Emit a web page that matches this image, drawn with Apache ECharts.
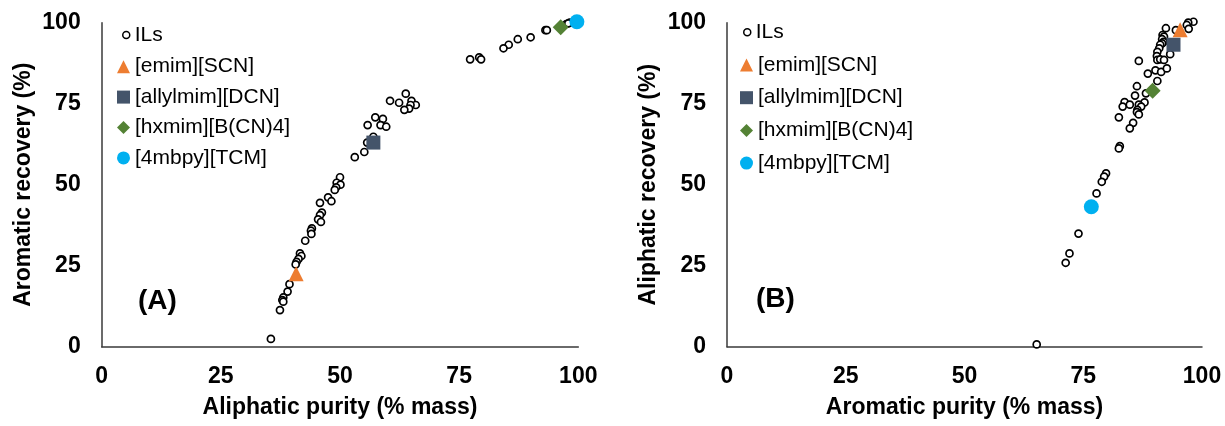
<!DOCTYPE html>
<html>
<head>
<meta charset="utf-8">
<script src="https://cdn.jsdelivr.net/npm/echarts@6/dist/echarts.min.js"></script>
<style>
  html, body { margin: 0; padding: 0; background: #fff; }
  #chart { width: 1225px; height: 426px; }
</style>
</head>
<body>
<div id="chart"></div>
<script>
// ---------- Data ----------
const axisTicks = [0, 25, 50, 75, 100];
const seriesNames = ['ILs', '[emim][SCN]', '[allylmim][DCN]', '[hxmim][B(CN)4]', '[4mbpy][TCM]'];

// Panel A: x = Aliphatic purity (% mass), y = Aromatic recovery (%)
const ilsA = [
  [97.5, 99.6], [98.2, 100.0], [97.9, 99.8], [93.1, 97.7], [93.4, 97.7], [90.0, 95.5], [87.3, 94.9],
  [85.4, 93.2], [84.3, 92.1], [79.2, 89.3], [79.6, 88.7], [77.3, 88.7],
  [63.8, 78.1], [60.5, 75.9], [62.4, 75.3], [65.0, 75.9], [65.9, 74.6], [64.8, 74.6],
  [64.5, 73.5], [63.5, 73.1], [57.4, 70.8], [59.0, 70.3], [55.8, 68.4], [58.5, 68.4],
  [59.7, 67.9], [57.0, 64.8], [55.7, 63.0], [55.1, 60.1], [53.1, 58.5],
  [50.0, 52.3], [49.3, 50.6], [50.1, 50.0], [49.2, 49.2], [48.9, 48.4], [47.5, 46.1],
  [48.2, 44.9], [45.8, 44.4], [46.2, 41.4], [45.8, 40.6], [45.4, 39.3], [46.0, 38.5],
  [44.1, 36.5], [43.9, 35.8], [44.0, 34.8], [42.7, 32.7], [41.6, 28.8], [41.9, 28.0],
  [41.3, 27.1], [40.9, 26.2], [40.7, 25.4], [39.4, 19.3], [39.0, 17.0], [38.1, 15.2],
  [37.9, 14.4], [38.1, 13.9], [37.4, 11.3], [35.5, 2.4]
];
const emimA = [[40.8, 22.5]];
const allylA = [[57.0, 63.0]];
const hxmimA = [[96.3, 98.6]];
const mbpyA = [[99.7, 100.3]];

// Panel B: x = Aromatic purity (% mass), y = Aliphatic recovery (%)
const ilsB = [
  [98.2, 100.3], [97.1, 100.0], [96.8, 99.3], [97.2, 98.1], [92.4, 98.3], [94.5, 97.7],
  [91.7, 96.2], [92.0, 95.7], [91.6, 94.9], [91.9, 94.1], [91.6, 93.6], [91.2, 93.2],
  [91.0, 92.1], [90.6, 91.0], [90.5, 89.7], [90.6, 88.5], [91.2, 88.7], [92.0, 88.5],
  [93.3, 90.3], [86.7, 88.2], [88.6, 84.3], [90.2, 85.3], [91.4, 84.8], [92.6, 85.9],
  [90.6, 82.0], [86.3, 80.4], [85.9, 77.5], [88.2, 78.2], [87.9, 75.4], [83.7, 75.5],
  [83.3, 74.1], [84.8, 74.7], [86.7, 74.7], [87.2, 74.1], [86.4, 73.1], [86.3, 72.4],
  [86.7, 71.7], [82.5, 70.8], [85.5, 69.1], [84.8, 67.4], [82.7, 61.9], [82.5, 61.2],
  [79.8, 53.5], [79.4, 52.5], [78.9, 50.9], [77.8, 47.3], [74.0, 34.9], [72.1, 28.8],
  [71.3, 25.9], [65.2, 0.7]
];
const emimB = [[95.4, 97.8]];
const allylB = [[94.0, 93.2]];
const hxmimB = [[89.6, 79.0]];
const mbpyB = [[76.7, 43.2]];

// ---------- Styles ----------
const FONT = "'Liberation Sans', Arial, sans-serif";
const axisLineColor = '#3a3a3a';
const colors = { emim: '#ED7D31', allyl: '#44546A', hxmim: '#548235', mbpy: '#00B0F0' };

function makeXAxis(gridIndex, name) {
  return {
    gridIndex, type: 'value', min: 0, max: 100, interval: 25,
    name, nameLocation: 'middle', nameGap: 49,
    nameTextStyle: { fontFamily: FONT, fontSize: 23, fontWeight: 'bold', color: '#000' },
    axisLine: { show: true, onZero: false, lineStyle: { color: axisLineColor, width: 1.5 } },
    axisTick: { show: false },
    splitLine: { show: false },
    axisLabel: { margin: 18, fontFamily: FONT, fontSize: 23, fontWeight: 'bold', color: '#000',
      formatter: v => axisTicks.includes(v) ? String(v) : '' }
  };
}
function makeYAxis(gridIndex, name) {
  return {
    gridIndex, type: 'value', min: 0, max: 100, interval: 25,
    name, nameLocation: 'middle', nameGap: 67,
    nameTextStyle: { fontFamily: FONT, fontSize: 23, fontWeight: 'bold', color: '#000' },
    axisLine: { show: true, onZero: false, lineStyle: { color: axisLineColor, width: 1.5 } },
    axisTick: { show: false },
    splitLine: { show: false },
    axisLabel: { margin: 21, fontFamily: FONT, fontSize: 23, fontWeight: 'bold', color: '#000',
      formatter: v => axisTicks.includes(v) ? String(v) : '' }
  };
}

function panelSeries(idx, ils, emim, allyl, hxmim, mbpy) {
  const base = { type: 'scatter', xAxisIndex: idx, yAxisIndex: idx, clip: false, silent: true };
  return [
    Object.assign({}, base, { name: seriesNames[0], data: ils, symbol: 'circle', symbolSize: 7,
      itemStyle: { color: '#fff', borderColor: '#000', borderWidth: 1.7, opacity: 1 } }),
    Object.assign({}, base, { name: seriesNames[1], data: emim, symbol: 'triangle', symbolSize: 15,
      itemStyle: { color: colors.emim, opacity: 1 } }),
    Object.assign({}, base, { name: seriesNames[2], data: allyl, symbol: 'rect', symbolSize: 14,
      itemStyle: { color: colors.allyl, opacity: 1 } }),
    Object.assign({}, base, { name: seriesNames[3], data: hxmim, symbol: 'diamond', symbolSize: 16,
      itemStyle: { color: colors.hxmim, opacity: 1 } }),
    Object.assign({}, base, { name: seriesNames[4], data: mbpy, symbol: 'circle', symbolSize: 15,
      itemStyle: { color: colors.mbpy, opacity: 1 } })
  ];
}

const legendText = { fontFamily: FONT, fontSize: 21, color: '#000', lineHeight: 21 };

const option = {
  animation: false,
  backgroundColor: '#fff',
  grid: [
    { left: 101.7, right: 646.7, top: 22.7, bottom: 79.3 },
    { left: 727, right: 23, top: 22.7, bottom: 79.3 }
  ],
  xAxis: [makeXAxis(0, 'Aliphatic purity (% mass)'), makeXAxis(1, 'Aromatic purity (% mass)')],
  yAxis: [makeYAxis(0, 'Aromatic recovery (%)'), makeYAxis(1, 'Aliphatic recovery (%)')],
  legend: [
    { orient: 'vertical', left: 122, top: 24.5, padding: 0, itemWidth: 7, itemHeight: 7,
      data: [seriesNames[0]], textStyle: legendText, selectedMode: false,
      itemStyle: { color: '#fff', borderColor: '#000', borderWidth: 1.5, opacity: 1 } },
    { orient: 'vertical', left: 117, top: 56.2, padding: 0, itemWidth: 13, itemHeight: 13, itemGap: 9.4,
      data: seriesNames.slice(1), textStyle: legendText, selectedMode: false,
      itemStyle: { borderWidth: 0, opacity: 1 } },
    { orient: 'vertical', left: 743, top: 21.8, padding: 0, itemWidth: 7, itemHeight: 7,
      data: [seriesNames[0]], textStyle: legendText, selectedMode: false,
      itemStyle: { color: '#fff', borderColor: '#000', borderWidth: 1.5, opacity: 1 } },
    { orient: 'vertical', left: 740, top: 54.5, padding: 0, itemWidth: 13, itemHeight: 13, itemGap: 11.7,
      data: seriesNames.slice(1), textStyle: legendText, selectedMode: false,
      itemStyle: { borderWidth: 0, opacity: 1 } }
  ],
  graphic: [
    { type: 'text', left: 138, top: 287, style: { text: '(A)', font: "bold 28px 'Liberation Sans', Arial, sans-serif", fill: '#000' } },
    { type: 'text', left: 756, top: 285, style: { text: '(B)', font: "bold 28px 'Liberation Sans', Arial, sans-serif", fill: '#000' } }
  ],
  series: [
    ...panelSeries(0, ilsA, emimA, allylA, hxmimA, mbpyA),
    ...panelSeries(1, ilsB, emimB, allylB, hxmimB, mbpyB)
  ]
};

const chart = echarts.init(document.getElementById('chart'), null, { renderer: 'canvas' });
chart.setOption(option);
</script>
</body>
</html>
